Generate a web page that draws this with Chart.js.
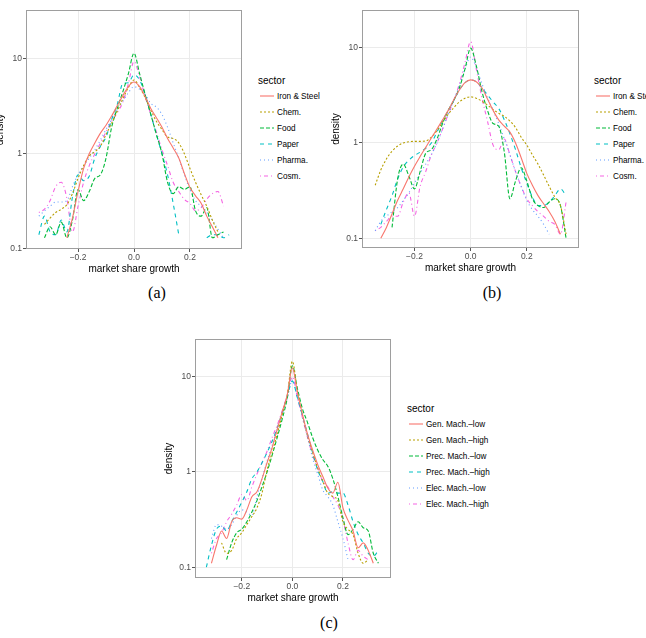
<!DOCTYPE html>
<html>
<head>
<meta charset="utf-8">
<script src="https://cdn.jsdelivr.net/npm/chart.js@4.4.0/dist/chart.umd.min.js"></script>
<style>
  body { margin: 0; width: 646px; height: 638px; background: #fff; position: relative; overflow: hidden;
         font-family: "Liberation Sans", Arial, sans-serif; }
  .panel { position: absolute; }
  .legend { position: absolute; color: #000; }
  .legend .ttl { position: absolute; left: 0; top: 0; font-size: 10px; line-height: 12px; white-space: nowrap; }
  .legend .item { position: absolute; left: 0; height: 10px; display: flex; align-items: center;
                  font-size: 8.2px; white-space: nowrap; }
  .legend svg { display: block; }
  .legend span { margin-left: 1px; }
  .cap { position: absolute; font-family: "Liberation Serif", "DejaVu Serif", serif; font-size: 16px;
         transform: translate(-50%, -50%); }
</style>
</head>
<body>
<div class="panel" style="left:-8px;top:0;width:258px;height:279px"><canvas id="chartA"></canvas></div>
<div class="panel" style="left:328px;top:0;width:262px;height:278px"><canvas id="chartB"></canvas></div>
<div class="panel" style="left:161px;top:330px;width:239px;height:278px"><canvas id="chartC"></canvas></div>

<div class="legend" id="legA" style="left:258px;top:75px"></div>
<div class="legend" id="legB" style="left:594px;top:75px"></div>
<div class="legend" id="legC" style="left:407px;top:403px"></div>

<div class="cap" style="left:157px;top:293px">(a)</div>
<div class="cap" style="left:492px;top:293px">(b)</div>
<div class="cap" style="left:329px;top:623px">(c)</div>

<script>
// market share growth grid
const growth = [-0.34, -0.32, -0.30, -0.28, -0.26, -0.24, -0.22, -0.20, -0.18, -0.16, -0.14, -0.12,
                -0.10, -0.08, -0.06, -0.04, -0.02, 0.00, 0.02, 0.04, 0.06, 0.08, 0.10, 0.12,
                0.14, 0.16, 0.18, 0.20, 0.22, 0.24, 0.26, 0.28, 0.30, 0.32, 0.34];

const xTicks = [-0.2, 0, 0.2];
const yTicks = [0.1, 1, 10];

const sectorsAB = ['Iron & Steel', 'Chem.', 'Food', 'Paper', 'Pharma.', 'Cosm.'];
const sectorsC = ['Gen. Mach.\u2013low', 'Gen. Mach.\u2013high', 'Prec. Mach.\u2013low',
                  'Prec. Mach.\u2013high', 'Elec. Mach.\u2013low', 'Elec. Mach.\u2013high'];

// (a)
const ironA = [null, null, null, null, null, 0.13, 0.21, 0.40, 0.70, 1.0, 1.3, 1.65, 2.0, 2.5, 3.2, 4.1, 5.1, 5.7,
               5.1, 4.0, 3.0, 2.4, 1.9, 1.45, 1.15, 0.9, 0.62, 0.44, 0.36, 0.30, 0.22, 0.17, 0.13, null, null];
const chemA = [null, 0.18, 0.21, 0.24, 0.26, 0.29, 0.38, 0.55, 0.75, 0.95, 1.05, 1.2, 1.6, 2.1, 2.8, 3.8, 5.0, 6.0,
               5.0, 3.9, 2.9, 2.2, 1.8, 1.5, 1.45, 1.3, 1.0, 0.7, 0.5, 0.37, 0.28, 0.2, 0.15, null, null];
const foodA = [null, 0.13, 0.17, 0.14, 0.19, 0.13, 0.2, 0.42, 0.32, 0.4, 0.55, 0.6, 0.9, 1.9, 3.0, 4.5, 7.0, 11.5,
               7.0, 4.2, 2.6, 1.6, 1.0, 0.5, 0.38, 0.45, 0.42, 0.45, 0.25, 0.22, 0.27, 0.13, 0.14, 0.15, null];
const paperA = [0.14, 0.22, 0.15, 0.14, 0.2, 0.15, 0.35, 0.6, 0.52, 0.58, 0.9, 1.2, 1.5, 2.3, 3.3, 5.5, 5.6, 6.8,
                6.0, 4.2, 2.6, 1.6, 1.0, 0.6, 0.3, 0.14, null, null, null, null, 0.13, 0.14, 0.14, 0.13, 0.14];
const pharmaA = [0.22, 0.25, 0.28, 0.31, 0.31, 0.32, 0.45, 0.6, 0.75, 0.9, 1.1, 1.4, 1.8, 2.3, 2.9, 3.6, 4.4, 5.1,
                 4.8, 4.2, 3.4, 3.1, 2.6, 1.9, 1.3, 0.9, 0.6, 0.42, 0.32, 0.28, 0.24, 0.2, 0.16, 0.13, null];
const cosmA = [0.24, 0.26, 0.32, 0.45, 0.5, 0.34, 0.15, 0.28, 0.5, 0.75, 1.0, 1.3, 1.7, 2.2, 2.7, 3.5, 5.5, 9.4,
               6.5, 4.0, 2.6, 1.7, 1.1, 0.75, 0.5, 0.4, 0.33, 0.3, 0.25, 0.27, 0.33, 0.38, 0.4, 0.28, null];

// (b)
const ironB = [null, 0.1, 0.13, 0.18, 0.25, 0.33, 0.44, 0.57, 0.72, 0.9, 1.13, 1.4, 1.75, 2.2, 2.85, 3.6, 4.3, 4.6,
               4.4, 3.8, 2.9, 2.2, 1.75, 1.5, 1.3, 1.0, 0.7, 0.48, 0.36, 0.28, 0.23, 0.19, 0.15, 0.11, null];
const chemB = [0.36, 0.52, 0.68, 0.82, 0.93, 1.0, 1.03, 1.04, 1.04, 1.05, 1.15, 1.35, 1.65, 2.0, 2.35, 2.7, 2.95, 3.05,
               2.95, 2.75, 2.5, 2.25, 2.05, 1.9, 1.7, 1.45, 1.15, 0.95, 0.75, 0.6, 0.46, 0.35, 0.27, 0.22, 0.11];
const foodB = [null, null, null, 0.13, 0.42, 0.6, 0.45, 0.33, 0.5, 0.78, 0.85, 1.1, 1.6, 2.2, 2.8, 3.8, 6.0, 9.9,
               6.5, 3.5, 2.2, 1.6, 1.5, 0.8, 0.26, 0.4, 0.55, 0.4, 0.26, 0.22, 0.21, 0.24, 0.26, 0.22, 0.1];
const paperB = [null, 0.14, 0.2, 0.28, 0.42, 0.56, 0.66, 0.74, 0.8, 0.88, 1.0, 1.3, 1.7, 2.2, 2.8, 3.6, 4.3, 4.6,
                4.4, 3.8, 3.2, 2.7, 2.3, 1.75, 1.25, 0.85, 0.55, 0.38, 0.27, 0.22, 0.22, 0.24, 0.28, 0.33, 0.28];
const pharmaB = [0.12, 0.15, 0.17, 0.19, 0.21, 0.25, 0.3, 0.38, 0.48, 0.6, 0.75, 1.0, 1.4, 2.0, 2.8, 4.0, 6.0, 8.0,
                 6.2, 4.2, 3.0, 2.2, 1.6, 1.1, 0.75, 0.5, 0.35, 0.25, 0.2, 0.17, 0.14, 0.11, null, null, null];
const cosmB = [0.12, 0.13, 0.15, 0.17, 0.17, 0.24, 0.3, 0.17, 0.35, 0.5, 0.75, 1.0, 1.4, 2.0, 2.8, 4.2, 7.0, 11.6,
               6.0, 3.0, 1.7, 0.95, 0.85, 1.1, 0.75, 0.5, 0.35, 0.26, 0.22, 0.19, 0.17, 0.15, 0.14, 0.11, 0.24];

// (c)
const genLowC = [null, 0.11, 0.17, 0.24, 0.2, 0.3, 0.33, 0.32, 0.4, 0.55, 0.62, 0.85, 1.25, 1.8, 2.8, 4.3, 6.5, 12.4,
                 6.8, 4.0, 2.5, 1.7, 1.2, 0.9, 0.68, 0.6, 0.78, 0.42, 0.31, 0.24, 0.16, 0.18, 0.15, 0.11, null];
const genHighC = [null, null, null, 0.18, 0.14, 0.15, 0.2, 0.23, 0.28, 0.34, 0.42, 0.6, 1.05, 1.6, 2.5, 4.0, 6.5, 14.5,
                  7.0, 4.0, 2.4, 1.6, 1.1, 0.8, 0.6, 0.55, 0.5, 0.3, 0.25, 0.22, 0.14, 0.11, 0.12, null, null];
const precLowC = [null, null, null, null, 0.12, 0.18, 0.23, 0.25, 0.3, 0.38, 0.5, 0.7, 1.0, 1.5, 2.3, 3.6, 6.0, 13.0,
                  7.5, 4.6, 3.3, 2.3, 1.7, 1.35, 1.15, 0.85, 0.55, 0.33, 0.22, 0.25, 0.3, 0.26, 0.24, 0.14, 0.11];
const precHighC = [0.1, 0.17, 0.25, 0.27, 0.24, 0.3, 0.38, 0.48, 0.62, 0.85, 1.0, 1.25, 1.6, 2.1, 2.9, 4.2, 6.3, 9.0,
                   6.0, 3.9, 2.5, 1.6, 1.05, 0.8, 0.6, 0.62, 0.6, 0.6, 0.45, 0.3, 0.22, 0.18, 0.14, 0.13, 0.15];
const elecLowC = [null, 0.2, 0.28, 0.27, 0.25, 0.28, 0.35, 0.4, 0.38, 0.35, 0.55, 0.85, 1.3, 1.9, 2.8, 4.0, 6.0, 9.2,
                  6.0, 3.8, 2.3, 1.4, 0.95, 0.65, 0.55, 0.45, 0.3, 0.2, 0.12, null, null, null, null, null, null];
const elecHighC = [null, 0.14, 0.2, 0.23, 0.3, 0.36, 0.45, 0.58, 0.5, 0.7, 0.95, 1.25, 1.65, 2.3, 3.1, 4.4, 6.4, 10.0,
                   6.0, 3.7, 2.3, 1.5, 1.1, 0.8, 0.7, 0.55, 0.45, 0.32, 0.18, 0.12, 0.15, 0.13, 0.12, null, null];

// ggplot default hues and linetypes
const hues = ['#F8766D', '#B79F00', '#00BA38', '#00BFC4', '#619CFF', '#F564E3'];
const dashes = [[], [2, 2], [4, 2], [4, 4], [1, 3], [1, 3, 4, 3]];

Chart.defaults.font.family = '"Liberation Sans", Arial, sans-serif';

const frame = {
    id: 'frame',
    afterDatasetsDraw(chart) {
        const { ctx, chartArea: a } = chart;
        ctx.save();
        ctx.strokeStyle = '#9e9e9e';
        ctx.lineWidth = 1;
        ctx.strokeRect(Math.round(a.left) + 0.5, Math.round(a.top) + 0.5,
                       Math.round(a.right - a.left) - 1, Math.round(a.bottom - a.top) - 1);
        ctx.restore();
    }
};

function fmtX(v) {
    if (Math.abs(v) < 1e-9) return '0.0';
    return (v < 0 ? '\u2212' : '') + Math.abs(v).toFixed(1);
}

function makePanel(id, seriesList, names, box) {
    return new Chart(document.getElementById(id), {
        type: 'line',
        data: {
            datasets: seriesList.map((vals, i) => ({
                label: names[i],
                data: growth.map((x, j) => ({ x: x, y: vals[j] })),
                borderColor: hues[i],
                borderDash: dashes[i],
                borderWidth: 1.1,
                pointRadius: 0,
                fill: false,
                cubicInterpolationMode: 'monotone',
                spanGaps: false
            }))
        },
        options: {
            responsive: true,
            maintainAspectRatio: false,
            animation: false,
            layout: { padding: { top: box.padTop, right: box.padRight, left: 0, bottom: 0 } },
            plugins: { legend: { display: false }, tooltip: { enabled: false } },
            scales: {
                x: {
                    type: 'linear',
                    min: box.xMin,
                    max: box.xMax,
                    afterBuildTicks: s => { s.ticks = xTicks.map(v => ({ value: v })); },
                    afterFit: s => { s.height = 30; },
                    ticks: { callback: fmtX, color: '#4d4d4d', font: { size: 8.5 }, padding: 1, maxRotation: 0 },
                    grid: { color: '#ebebeb', lineWidth: 1, tickLength: 3, tickColor: '#555', tickWidth: 1 },
                    border: { display: false },
                    title: { display: true, text: 'market share growth', color: '#000', font: { size: 10 },
                             padding: { top: 0, bottom: 4 } }
                },
                y: {
                    type: 'logarithmic',
                    min: box.yMin,
                    max: box.yMax,
                    afterBuildTicks: s => { s.ticks = yTicks.map(v => ({ value: v })); },
                    afterFit: s => { s.width = 34; },
                    ticks: { callback: v => (v < 1 ? '0.1' : String(Math.round(v))), color: '#4d4d4d',
                             font: { size: 8.5 }, padding: 1 },
                    grid: { color: '#ebebeb', lineWidth: 1, tickLength: 3, tickColor: '#555', tickWidth: 1 },
                    border: { display: false },
                    title: { display: true, text: 'density', color: '#000', font: { size: 10 },
                             padding: { top: 2, bottom: 0 } }
                }
            }
        },
        plugins: [frame]
    });
}

function buildLegend(id, names) {
    const el = document.getElementById(id);
    const ttl = document.createElement('div');
    ttl.className = 'ttl';
    ttl.textContent = 'sector';
    el.appendChild(ttl);
    names.forEach((n, i) => {
        const item = document.createElement('div');
        item.className = 'item';
        item.style.top = (16 + 16 * i) + 'px';
        item.innerHTML = `<svg width="18" height="10"><line x1="2" y1="5" x2="16" y2="5" stroke="${hues[i]}"
            stroke-width="1.1" stroke-dasharray="${dashes[i].length ? dashes[i].join(' ') : 'none'}"/></svg>`;
        const span = document.createElement('span');
        span.textContent = n;
        item.appendChild(span);
        el.appendChild(item);
    });
}

makePanel('chartA', [ironA, chemA, foodA, paperA, pharmaA, cosmA], sectorsAB,
          { padTop: 10, padRight: 8, xMin: -0.386, xMax: 0.386, yMin: 0.099, yMax: 32.8 });
makePanel('chartB', [ironB, chemB, foodB, paperB, pharmaB, cosmB], sectorsAB,
          { padTop: 10, padRight: 11, xMin: -0.387, xMax: 0.386, yMin: 0.079, yMax: 24.9 });
makePanel('chartC', [genLowC, genHighC, precLowC, precHighC, elecLowC, elecHighC], sectorsC,
          { padTop: 9, padRight: 9, xMin: -0.385, xMax: 0.39, yMin: 0.077, yMax: 24.9 });

buildLegend('legA', sectorsAB);
buildLegend('legB', sectorsAB);
buildLegend('legC', sectorsC);
</script>
</body>
</html>
